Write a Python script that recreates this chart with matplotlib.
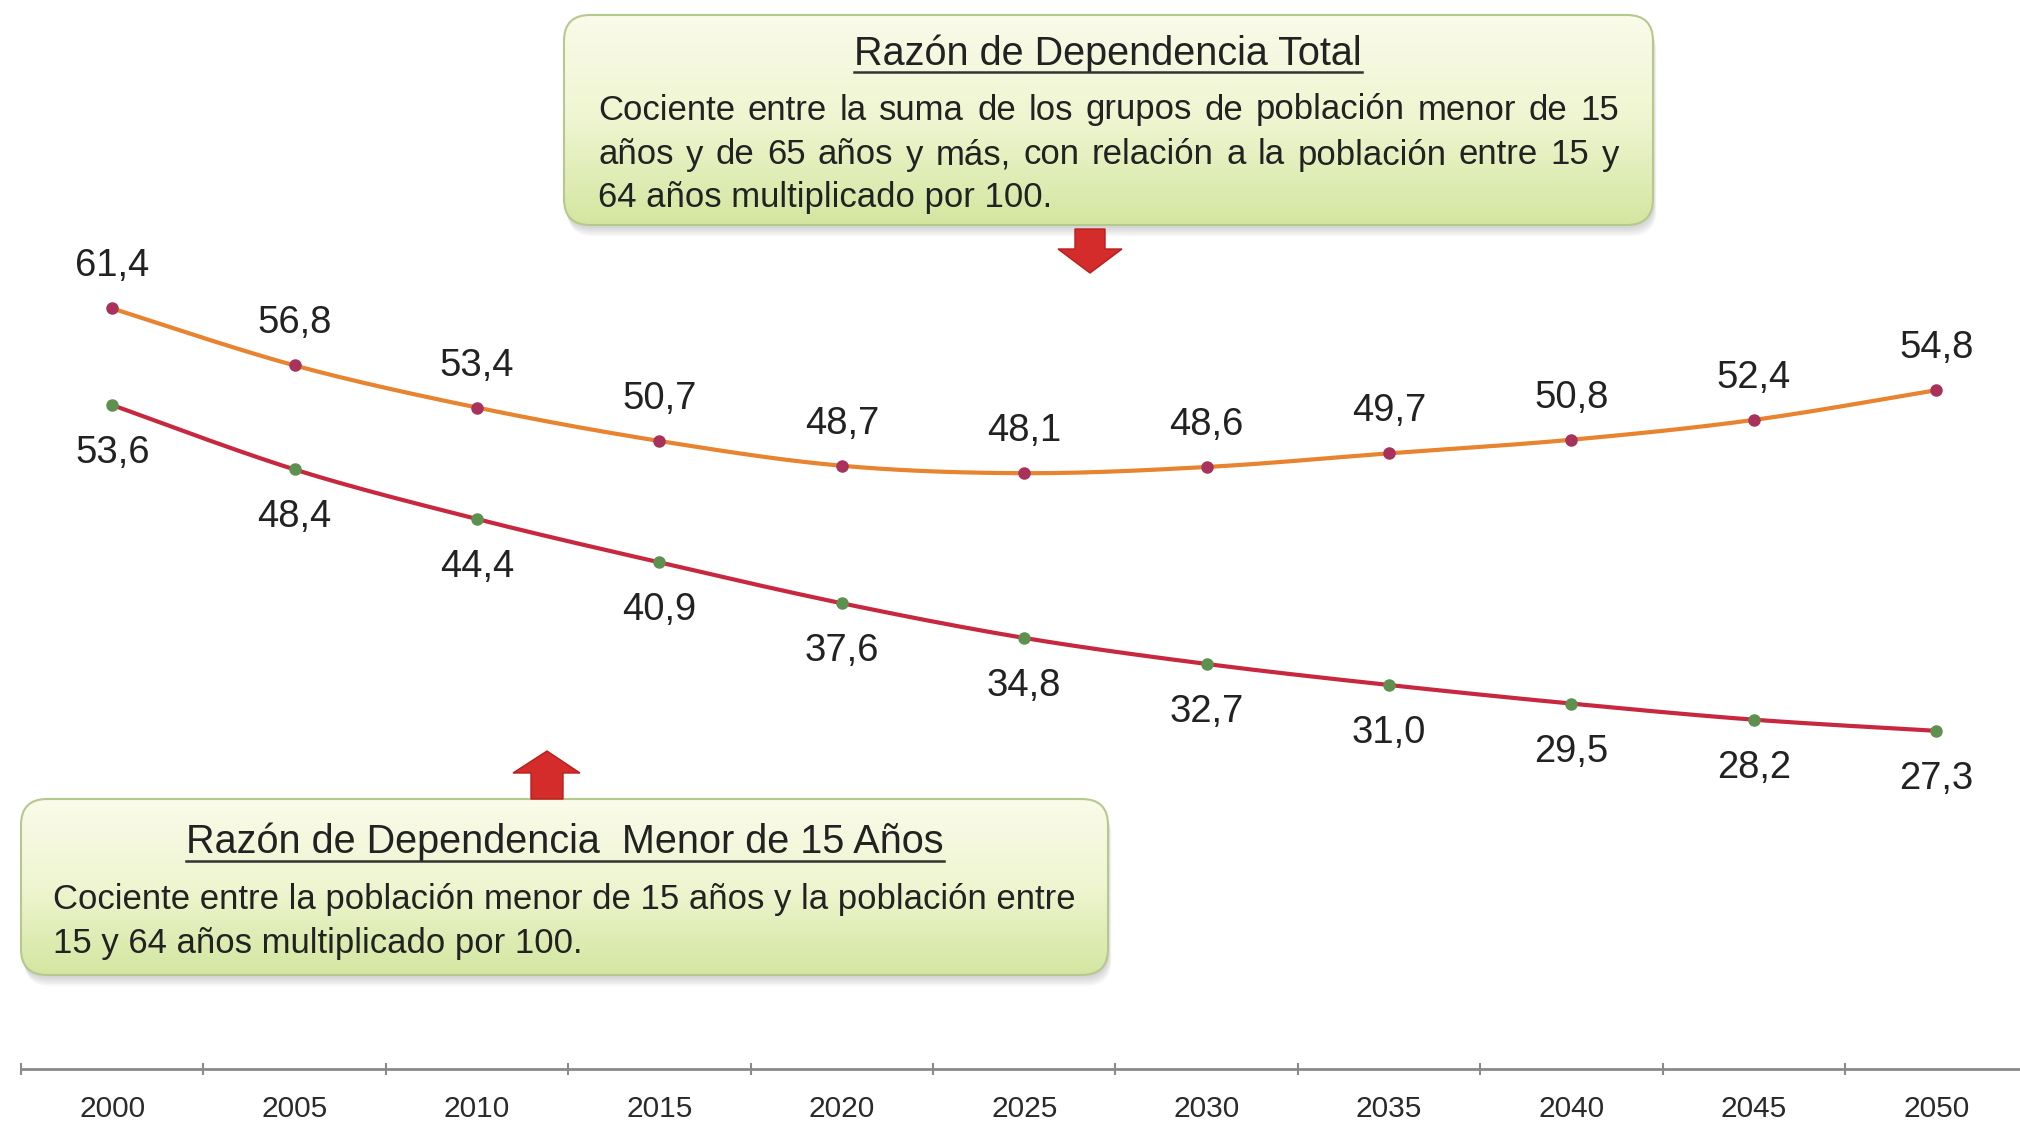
import numpy as np
import matplotlib
matplotlib.use('Agg')
import matplotlib.pyplot as plt
from matplotlib.patches import FancyBboxPatch, Polygon
from matplotlib.colors import LinearSegmentedColormap

# ---------------- data ----------------
years = ['2000', '2005', '2010', '2015', '2020', '2025', '2030', '2035', '2040', '2045', '2050']
total = [61.4, 56.8, 53.4, 50.7, 48.7, 48.1, 48.6, 49.7, 50.8, 52.4, 54.8]
menor15 = [53.6, 48.4, 44.4, 40.9, 37.6, 34.8, 32.7, 31.0, 29.5, 28.2, 27.3]

title_total = "Razón de Dependencia Total"
body_total = ["Cociente entre la suma de los grupos de población menor de 15",
              "años y de 65 años y más, con relación a la población entre 15 y",
              "64 años multiplicado por 100."]
title_menor = "Razón de Dependencia  Menor de 15 Años"
body_menor = ["Cociente entre la población menor de 15 años y la población entre",
              "15 y 64 años multiplicado por 100."]

plt.rcParams['font.family'] = ['Liberation Sans', 'DejaVu Sans']

W, H = 2020, 1125
fig = plt.figure(figsize=(W / 100, H / 100), dpi=100)
fig.patch.set_facecolor('white')

# ---------------- main axes ----------------
ax = fig.add_axes([21 / W, (H - 1069) / H, 2006.4 / W, 1069 / H])
n = len(years)
x = np.arange(n)
ax.set_xlim(-0.5, n - 0.5)
ax.set_ylim(0, 86.3)


def smooth(xs, ys, k=30):
    p = np.column_stack([xs, ys]).astype(float)
    pts = np.vstack([p[0], p, p[-1]])
    out = []
    t = np.linspace(0, 1, k)[:, None]
    for i in range(1, len(pts) - 2):
        p0, p1, p2, p3 = pts[i - 1], pts[i], pts[i + 1], pts[i + 2]
        c1 = p1 + (p2 - p0) / 6
        c2 = p2 - (p3 - p1) / 6
        seg = ((1 - t) ** 3) * p1 + 3 * ((1 - t) ** 2) * t * c1 + 3 * (1 - t) * t ** 2 * c2 + t ** 3 * p2
        out.append(seg if i == 1 else seg[1:])
    s = np.vstack(out)
    return s[:, 0], s[:, 1]


sx, sy = smooth(x, total)
ax.plot(sx, sy, color='#E8832F', lw=3.0, solid_capstyle='round', zorder=2)
ax.plot(x, total, 'o', color='#A8325C', ms=8, mec='#A8325C', zorder=3)
sx, sy = smooth(x, menor15)
ax.plot(sx, sy, color='#C8283F', lw=3.0, solid_capstyle='round', zorder=2)
ax.plot(x, menor15, 'o', color='#5E9150', ms=8, mec='#5E9150', zorder=3)

fmt = lambda v: f"{v:.1f}".replace('.', ',')
for xi, v in zip(x, total):
    ax.annotate(fmt(v), (xi, v), xytext=(0, 42), textcoords='offset pixels',
                ha='center', va='center', fontsize=27.5, color='#222222')
for xi, v in zip(x, menor15):
    ax.annotate(fmt(v), (xi, v), xytext=(0, -48), textcoords='offset pixels',
                ha='center', va='center', fontsize=27.5, color='#222222')

for s in ['top', 'right', 'left']:
    ax.spines[s].set_visible(False)
ax.spines['bottom'].set_color('#8A8A8A')
ax.spines['bottom'].set_linewidth(2)
ax.set_yticks([])
ax.set_xticks(x)
ax.set_xticklabels(years, fontsize=21.5, color='#2A2A2A')
ax.tick_params(axis='x', which='major', length=0, pad=19)
ax.set_xticks(np.arange(-0.5, n, 1.0), minor=True)
ax.tick_params(axis='x', which='minor', length=9, width=1.5, color='#8A8A8A', direction='inout')

# ---------------- overlay for boxes ----------------
ov = fig.add_axes([0, 0, 1, 1], zorder=5)
ov.set_xlim(0, W)
ov.set_ylim(H, 0)
ov.axis('off')
ov.patch.set_alpha(0)

cmap = LinearSegmentedColormap.from_list('g', ['#FAFBEA', '#EFF5D0', '#D3E6A0'])


def box(x0, y0, x1, y1):
    r = 26
    for i, a in enumerate([0.05, 0.05, 0.05, 0.05, 0.05]):
        d = 3 + i * 2
        sh = FancyBboxPatch((x0 + d * 0.3, y0 + d), x1 - x0, y1 - y0,
                            boxstyle=f"round,pad=0,rounding_size={r}",
                            fc='#555555', ec='none', alpha=a, zorder=1)
        ov.add_patch(sh)
    p = FancyBboxPatch((x0, y0), x1 - x0, y1 - y0,
                       boxstyle=f"round,pad=0,rounding_size={r}",
                       fc='none', ec='#B5C98E', lw=1.5, zorder=3)
    ov.add_patch(p)
    grad = np.linspace(0, 1, 256)[:, None]
    im = ov.imshow(grad, cmap=cmap, extent=[x0, x1, y1, y0], aspect='auto', zorder=2,
                   interpolation='bilinear')
    clip = FancyBboxPatch((x0, y0), x1 - x0, y1 - y0,
                          boxstyle=f"round,pad=0,rounding_size={r}", fc='none', ec='none')
    ov.add_patch(clip)
    im.set_clip_path(clip)


box(564, 15, 1653, 225)
box(21, 799, 1108, 975)
ov.set_xlim(0, W)
ov.set_ylim(H, 0)

renderer = fig.canvas.get_renderer()


def width_of(s, fs):
    t = ov.text(0, 0, s, fontsize=fs)
    w = t.get_window_extent(renderer).width
    t.remove()
    return w


def title(s, cx, cy, fs, uy):
    ov.text(cx, cy, s, fontsize=fs, ha='center', va='center', color='#222222', zorder=6)
    w = width_of(s, fs)
    ov.plot([cx - w / 2, cx + w / 2], [uy, uy], color='#333333', lw=1.8, zorder=6)


def justified(s, x0, x1, y, fs):
    words = s.split(' ')
    ws = [width_of(w, fs) for w in words]
    gap = (x1 - x0 - sum(ws)) / (len(words) - 1)
    xx = x0
    for w, wd in zip(words, ws):
        ov.text(xx, y, w, fontsize=fs, ha='left', va='center', color='#222222', zorder=6)
        xx += wd + gap


fs_t = 28.5
fs_b = 25
title(title_total, 1108, 54, fs_t, 72)
justified(body_total[0], 598, 1619, 110, fs_b)
justified(body_total[1], 598, 1619, 155, fs_b)
ov.text(598, 198, body_total[2], fontsize=fs_b, ha='left', va='center', color='#222222', zorder=6)

title(title_menor, 565, 842, fs_t, 861)
ov.text(53, 899, body_menor[0], fontsize=fs_b, ha='left', va='center', color='#222222', zorder=6)
ov.text(53, 943, body_menor[1], fontsize=fs_b, ha='left', va='center', color='#222222', zorder=6)

# arrows
red = '#D42B2B'
ov.add_patch(Polygon([(1075, 229), (1105, 229), (1105, 249), (1122, 249), (1090, 273),
                      (1058, 249), (1075, 249)], closed=True, fc=red, ec='#B81E1E', lw=1, zorder=4))
ov.add_patch(Polygon([(531, 799), (563, 799), (563, 773), (580, 773), (547, 751),
                      (513, 773), (531, 773)], closed=True, fc=red, ec='#B81E1E', lw=1, zorder=4))

fig.savefig('out.png', dpi=100, facecolor='white')
